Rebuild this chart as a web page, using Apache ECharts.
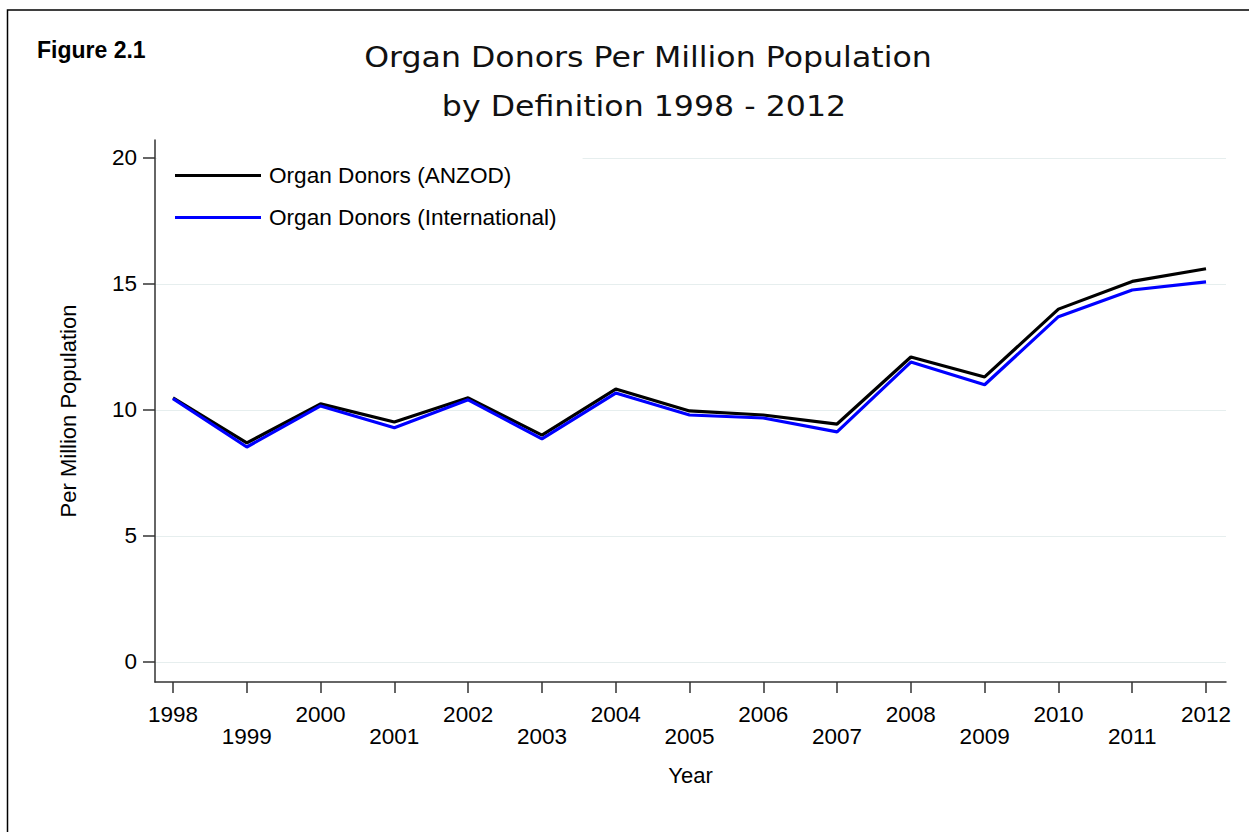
<!DOCTYPE html>
<html>
<head>
<meta charset="utf-8">
<script src="https://cdn.jsdelivr.net/npm/echarts@6/dist/echarts.min.js"></script>
<style>
html,body{margin:0;padding:0;background:#fff;}
#chart{width:1249px;height:832px;}
</style>
</head>
<body>
<div id="chart"></div>
<script>
const years = [1998, 1999, 2000, 2001, 2002, 2003, 2004, 2005, 2006, 2007, 2008, 2009, 2010, 2011, 2012];
const anzod = [10.48, 8.69, 10.24, 9.52, 10.48, 9.00, 10.83, 9.96, 9.80, 9.44, 12.10, 11.31, 14.00, 15.10, 15.60];
const international = [10.45, 8.53, 10.16, 9.29, 10.40, 8.85, 10.67, 9.80, 9.68, 9.13, 11.90, 11.00, 13.70, 14.76, 15.08];
const yTicks = [0, 5, 10, 15, 20];
const seriesNames = ['Organ Donors (ANZOD)', 'Organ Donors (International)'];
const figureLabel = 'Figure 2.1';
const titleLines = ['Organ Donors Per Million Population', 'by Definition 1998 - 2012'];
const xName = 'Year';
const yName = 'Per Million Population';

const chart = echarts.init(document.getElementById('chart'), null, {renderer: 'svg'});
const FONT = '"Liberation Sans", Arial, sans-serif';

const option = {
  backgroundColor: '#fff',
  animation: false,
  grid: {left: 155, right: 23, top: 140, bottom: 150, containLabel: false},
  legend: {
    orient: 'vertical',
    left: 157,
    top: 154,
    padding: [10, 26, 10, 18],
    backgroundColor: '#fff',
    itemGap: 19,
    itemWidth: 86,
    itemHeight: 3,
    icon: 'rect',
    data: seriesNames,
    textStyle: {fontFamily: FONT, fontSize: 22.6, color: '#000', lineHeight: 23, padding: [0, 0, 0, 3]}
  },
  xAxis: {
    type: 'value',
    min: 1997.756,
    max: 2012.271,
    name: xName,
    nameLocation: 'middle',
    nameGap: 82,
    nameTextStyle: {fontFamily: FONT, fontSize: 22, color: '#000', verticalAlign: 'top'},
    axisLine: {show: true, onZero: false, lineStyle: {color: '#333', width: 1.5}},
    axisTick: {show: true, customValues: years, length: 11, lineStyle: {color: '#333', width: 1.5}},
    axisLabel: {
      customValues: years,
      margin: 21,
      fontFamily: FONT, fontSize: 22.5, color: '#000', lineHeight: 22,
      formatter: function (v) { return (v % 2 === 0) ? String(v) : '\n' + v; }
    },
    splitLine: {show: false}
  },
  yAxis: {
    type: 'value',
    min: -0.794,
    max: 20.71,
    name: yName,
    nameLocation: 'middle',
    nameGap: 76,
    nameRotate: 90,
    nameTextStyle: {fontFamily: FONT, fontSize: 22, color: '#000'},
    axisLine: {show: true, onZero: false, lineStyle: {color: '#333', width: 1.5}},
    axisTick: {show: true, customValues: yTicks, length: 12, lineStyle: {color: '#333', width: 1.5}},
    axisLabel: {customValues: yTicks, margin: 18, fontFamily: FONT, fontSize: 22.5, color: '#000'},
    splitLine: {show: true, lineStyle: {color: '#e6eeee', width: 1}}
  },
  series: [
    {
      name: seriesNames[0], type: 'line', symbol: 'none',
      data: years.map((y, i) => [y, anzod[i]]),
      itemStyle: {color: '#000'},
      lineStyle: {color: '#000', width: 3.2}
    },
    {
      name: seriesNames[1], type: 'line', symbol: 'none',
      data: years.map((y, i) => [y, international[i]]),
      itemStyle: {color: '#0000ff'},
      lineStyle: {color: '#0000ff', width: 3.2}
    }
  ],
  graphic: [
    {type: 'rect', silent: true, z: 100, shape: {x: 7.5, y: 10, width: 1300, height: 900},
     style: {fill: 'none', stroke: '#000', lineWidth: 1.5}},
    {type: 'text', x: 37, y: 50, silent: true,
     style: {text: figureLabel, font: 'bold 23px "Liberation Sans", Arial, sans-serif', fill: '#000',
             textAlign: 'left', textVerticalAlign: 'middle'}},
    {type: 'text', x: 648, y: 57, scaleX: 1.09, silent: true,
     style: {text: titleLines[0], font: '29px "DejaVu Sans", sans-serif', fill: '#111',
             textAlign: 'center', textVerticalAlign: 'middle'}},
    {type: 'text', x: 644, y: 106, scaleX: 1.09, silent: true,
     style: {text: titleLines[1], font: '29px "DejaVu Sans", sans-serif', fill: '#111',
             textAlign: 'center', textVerticalAlign: 'middle'}}
  ]
};
chart.setOption(option);
</script>
</body>
</html>
